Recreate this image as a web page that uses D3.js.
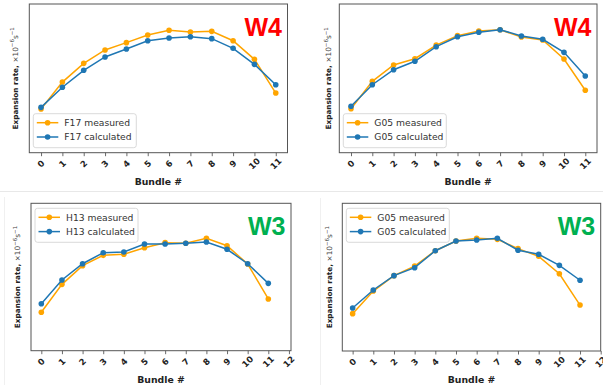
<!DOCTYPE html>
<html><head><meta charset="utf-8">
<script src="https://cdn.jsdelivr.net/npm/d3@7"></script>
<style>body{margin:0;background:#fff}svg{display:block}</style>
</head><body>
<svg id="chart" width="603" height="385"></svg>
<script>
// ---- data (y in arbitrary units, no y ticks shown in the original) ----
const bundles = [0,1,2,3,4,5,6,7,8,9,10,11];
const xTicksTop = [0,1,2,3,4,5,6,7,8,9,10,11];
const xTicksBottom = [0,1,2,3,4,5,6,7,8,9,10,11,12];
const seriesLabels = ["measured", "calculated"];
const panelNames = ["F17", "G05", "H13", "G05"];
const panelTags = ["W4", "W4", "W3", "W3"];

const f17Measured   = [2.94,4.75,6.01,6.91,7.40,7.92,8.23,8.12,8.16,7.53,6.28,4.01];
const f17Calculated = [3.05,4.40,5.54,6.44,6.97,7.53,7.71,7.80,7.67,7.02,5.94,4.57];
const g05W4Measured   = [2.96,4.80,5.90,6.32,7.24,7.87,8.18,8.27,7.78,7.58,6.30,4.20];
const g05W4Calculated = [3.12,4.57,5.58,6.15,7.13,7.80,8.10,8.27,7.85,7.63,6.75,5.16];
const h13Measured   = [2.61,4.50,5.77,6.47,6.54,6.99,7.33,7.29,7.63,7.12,5.88,3.51];
const h13Calculated = [3.19,4.80,5.90,6.65,6.70,7.24,7.24,7.29,7.37,6.88,5.90,4.57];
const g05W3Measured   = [2.53,4.06,5.10,5.75,6.79,7.45,7.63,7.56,6.93,6.41,5.23,3.11];
const g05W3Calculated = [2.91,4.13,5.10,5.64,6.79,7.45,7.52,7.63,6.82,6.55,5.80,4.79];

// ---- layout / style ----
const colMeasured = "#ffa500", colCalc = "#1f77b4";
const tagColors = {W4:"#ff0000", W3:"#00b050"};
const panels = [
  {m:f17Measured, c:f17Calculated, name:panelNames[0], tag:panelTags[0], ticks:xTicksTop, xd:[-0.55,11.55], f:[29.3,4,287.5,152.7], legTop:false, ylx:17.5},
  {m:g05W4Measured, c:g05W4Calculated, name:panelNames[1], tag:panelTags[1], ticks:xTicksTop, xd:[-0.55,11.55], f:[339.3,4,597,152.7], legTop:false, ylx:331},
  {m:h13Measured, c:h13Calculated, name:panelNames[2], tag:panelTags[2], ticks:xTicksBottom, xd:[-0.5,12.1], f:[31,203.3,291,350.7], legTop:true, ylx:20},
  {m:g05W3Measured, c:g05W3Calculated, name:panelNames[3], tag:panelTags[3], ticks:xTicksBottom, xd:[-0.5,12], f:[342.3,203.3,600.7,351], legTop:true, ylx:332}
];

const svg = d3.select("#chart");
const FONT = "DejaVu Sans, sans-serif";

// faint screenshot separators
svg.append("line").attr("x1",0).attr("x2",603).attr("y1",191.5).attr("y2",191.5).attr("stroke","#e8e8e8");
svg.append("line").attr("x1",4.5).attr("x2",4.5).attr("y1",197).attr("y2",385).attr("stroke","#f0f0f0");
svg.append("line").attr("x1",320.5).attr("x2",320.5).attr("y1",198).attr("y2",385).attr("stroke","#f0f0f0");

panels.forEach(p => {
  const [L,T,R,B] = p.f;
  const x = d3.scaleLinear().domain(p.xd).range([L,R]);
  const y = d3.scaleLinear().domain([0,10]).range([B,T]);
  const g = svg.append("g");

  // x axis ticks
  const ax = g.append("g").attr("transform",`translate(0,${B})`)
    .call(d3.axisBottom(x).tickValues(p.ticks).tickSize(3.5).tickFormat(d3.format("d")));
  ax.select(".domain").remove();
  ax.selectAll(".tick line").attr("stroke","#444").attr("stroke-width",0.8);
  ax.selectAll(".tick text").remove();
  p.ticks.forEach(t => {
    g.append("text").attr("transform",`translate(${x(t)},${B+11}) rotate(-45)`)
      .attr("text-anchor","middle").attr("dominant-baseline","central")
      .attr("font-family",FONT).attr("font-weight","bold").attr("font-size",8.5).attr("fill","#222")
      .text(d3.format("d")(t));
  });

  // frame
  g.append("rect").attr("x",L).attr("y",T).attr("width",R-L).attr("height",B-T)
    .attr("fill","none").attr("stroke","#555").attr("stroke-width",1);

  // series
  const line = d3.line().x((d,i)=>x(bundles[i])).y(d=>y(d));
  [[p.m,colMeasured],[p.c,colCalc]].forEach(([vals,col]) => {
    g.append("path").datum(vals).attr("d",line).attr("fill","none").attr("stroke",col).attr("stroke-width",1.5);
    g.selectAll(null).data(vals).enter().append("circle")
      .attr("cx",(d,i)=>x(bundles[i])).attr("cy",d=>y(d)).attr("r",2.8).attr("fill",col);
  });

  // legend
  const lx = L+4, ly = p.legTop ? T+5 : B-39;
  const lg = g.append("g").attr("transform",`translate(${lx},${ly})`);
  lg.append("rect").attr("width",103).attr("height",34).attr("rx",2.5)
    .attr("fill","#fff").attr("fill-opacity",0.85).attr("stroke","#d0d0d0").attr("stroke-width",0.8);
  [[seriesLabels[0],colMeasured,9],[seriesLabels[1],colCalc,23.3]].forEach(([lab,col,yy]) => {
    lg.append("line").attr("x1",3.5).attr("x2",25).attr("y1",yy).attr("y2",yy).attr("stroke",col).attr("stroke-width",1.5);
    lg.append("circle").attr("cx",14.3).attr("cy",yy).attr("r",2.8).attr("fill",col);
    lg.append("text").attr("x",31).attr("y",yy).attr("dominant-baseline","central")
      .attr("font-family",FONT).attr("font-size",9.2).attr("fill","#333").text(`${p.name} ${lab}`);
  });

  // tag
  g.append("text").attr("x",R-5.5).attr("y",T+32).attr("text-anchor","end")
    .attr("font-family","Liberation Sans, Arial, sans-serif").attr("font-weight","bold").attr("font-size",25)
    .attr("fill",tagColors[p.tag]).text(p.tag);

  // x label
  g.append("text").attr("x",(L+R)/2).attr("y",B+32).attr("text-anchor","middle")
    .attr("font-family",FONT).attr("font-weight","bold").attr("font-size",9.3).attr("fill","#222").text("Bundle #");

  // y label
  const yl = g.append("text").attr("transform",`translate(${p.ylx},${(T+B)/2}) rotate(-90)`)
    .attr("text-anchor","middle").attr("font-family",FONT).attr("font-size",7.3).attr("fill","#222");
  yl.append("tspan").attr("font-weight","bold").text("Expansion rate, ");
  yl.append("tspan").attr("fill","#444").text("×10");
  yl.append("tspan").attr("fill","#444").attr("font-size",5.5).attr("dy",-3.5).text("−6");
  yl.append("tspan").attr("fill","#444").attr("dy",3.5).text("s");
  yl.append("tspan").attr("fill","#444").attr("font-size",5.5).attr("dy",-3.5).text("−1");
});
</script>
</body></html>
